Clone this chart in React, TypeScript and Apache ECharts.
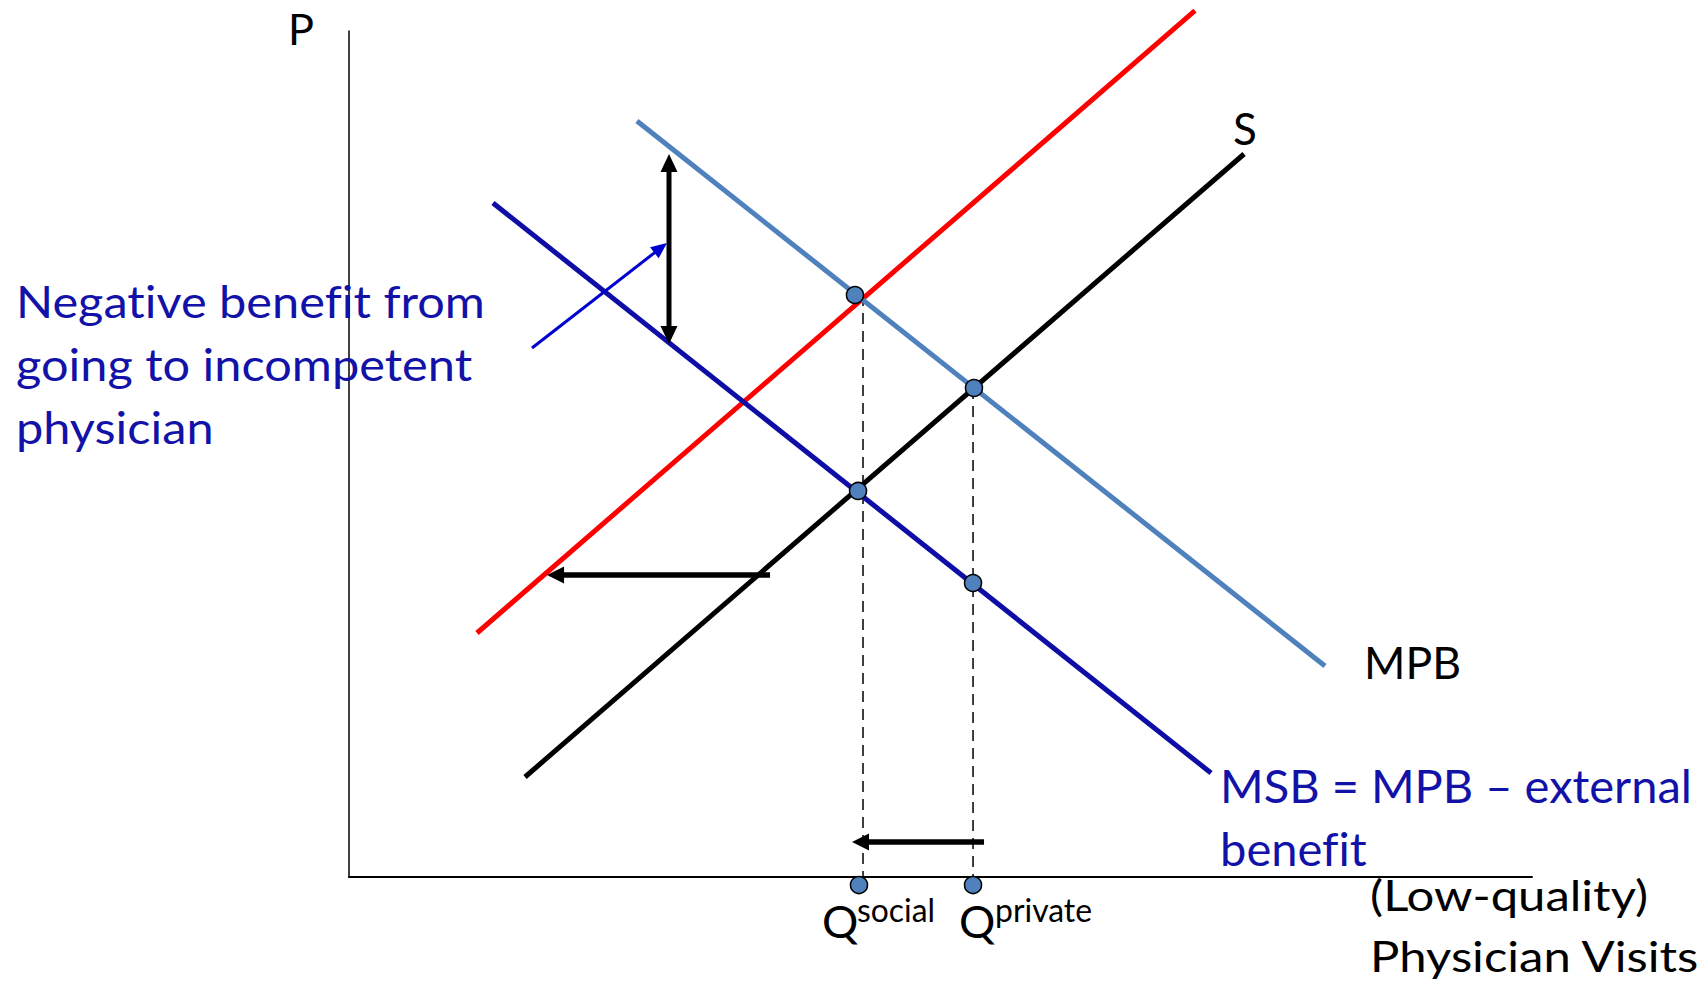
import React, { useEffect, useRef } from 'react';
import * as echarts from 'echarts';

// ---- axis ranges (chart units) ----
const xRange = [0, 100];
const yRange = [0, 100];

// ---- curves: endpoints [quantity, price] ----
const shiftedSupply = [[10.82, 28.84], [71.51, 102.4]]; // red
const supply = [[14.88, 11.82], [75.66, 85.46]]; // S
const mpb = [[24.34, 89.36], [82.5, 24.94]]; // MPB
const msb = [[12.17, 79.67], [72.87, 12.29]]; // MSB

// ---- marked points ----
const equilibriumPoints = [
  [42.77, 68.79],
  [52.83, 57.8],
  [43.03, 45.63],
  [52.75, 34.75],
];
const quantityPoints = [
  [43.11, -0.95],
  [52.75, -0.95],
];
const socialGuide = [[43.45, 68.79], [43.45, 0]];
const privateGuide = [[52.75, 57.8], [52.75, 0]];

// ---- arrows: [x1, y1, x2, y2] (tip at x2,y2) ----
const externalBenefitArrow = [[27.05, 63.0, 27.05, 85.46]];
const pointerArrow = [[15.47, 62.53, 26.88, 74.94]];
const shiftArrows = [
  [35.59, 35.7, 16.74, 35.7],
  [53.68, 4.14, 42.52, 4.14],
];

// ---- texts ----
const priceLabel = 'P';
const supplyLabel = 'S';
const mpbLabel = 'MPB';
const noteLines = ['Negative benefit from', 'going to incompetent', 'physician'];
const msbLines = ['MSB = MPB \u2013 external', 'benefit'];
const xTitleLines = ['(Low-quality)', 'Physician Visits'];
const qSocial = ['Q', 'social'];
const qPrivate = ['Q', 'private'];

const INK = '#000000';
const BLUE_TEXT = '#1212A8';
const FONT = 'Lato';
const CAP = 0.7165;
const XH = 0.5065;

const measureCtx = (() => {
  const c = document.createElement('canvas');
  return c.getContext('2d') as CanvasRenderingContext2D;
})();
function fitWidth(text: string, width: number) {
  measureCtx.font = `100px ${FONT}`;
  return (100 * width) / measureCtx.measureText(text).width;
}

function arrowRenderer(color: string, lw: number, headLen: number, headWid: number, both: boolean) {
  return (params: any, api: any) => {
    const a = api.coord([api.value(0), api.value(1)]);
    const b = api.coord([api.value(2), api.value(3)]);
    const dx = b[0] - a[0];
    const dy = b[1] - a[1];
    const len = Math.hypot(dx, dy);
    const ux = dx / len;
    const uy = dy / len;
    const px = -uy;
    const py = ux;
    const head = (tip: number[], dirx: number, diry: number) => ({
      type: 'polygon',
      shape: {
        points: [
          [tip[0], tip[1]],
          [tip[0] - dirx * headLen + (px * headWid) / 2, tip[1] - diry * headLen + (py * headWid) / 2],
          [tip[0] - dirx * headLen - (px * headWid) / 2, tip[1] - diry * headLen - (py * headWid) / 2],
        ],
      },
      style: { fill: color },
    });
    const s = both ? [a[0] + ux * headLen * 0.8, a[1] + uy * headLen * 0.8] : a;
    const e = [b[0] - ux * headLen * 0.8, b[1] - uy * headLen * 0.8];
    const children: any[] = [
      { type: 'line', shape: { x1: s[0], y1: s[1], x2: e[0], y2: e[1] }, style: { stroke: color, lineWidth: lw } },
      head(b, ux, uy),
    ];
    if (both) children.push(head(a, -ux, -uy));
    return { type: 'group', children };
  };
}

const curve = (name: string, data: number[][], color: string, width: number) => ({
  name,
  type: 'line',
  data,
  showSymbol: false,
  clip: false,
  silent: true,
  lineStyle: { color, width, cap: 'butt' },
  z: 3,
});

const baseOption: any = {
  animation: false,
  backgroundColor: '#ffffff',
  grid: { left: 349, top: 31, width: 1183, height: 846 },
  xAxis: {
    type: 'value',
    min: xRange[0],
    max: xRange[1],
    axisLine: { show: true, onZero: false, lineStyle: { color: INK, width: 2 } },
    axisTick: { show: false },
    axisLabel: { show: false },
    splitLine: { show: false },
  },
  yAxis: {
    type: 'value',
    min: yRange[0],
    max: yRange[1],
    axisLine: { show: true, onZero: false, lineStyle: { color: INK, width: 1.5 } },
    axisTick: { show: false },
    axisLabel: { show: false },
    splitLine: { show: false },
  },
  series: [
    {
      type: 'line',
      data: socialGuide,
      showSymbol: false,
      clip: false,
      lineStyle: { color: INK, width: 1.5, type: [11, 7] },
      z: 2,
    },
    {
      type: 'line',
      data: privateGuide,
      showSymbol: false,
      clip: false,
      lineStyle: { color: INK, width: 1.5, type: [11, 7] },
      z: 2,
    },
    curve('S', supply, '#000000', 5),
    curve('Shifted', shiftedSupply, '#FF0000', 5),
    curve('MPB', mpb, '#4F81BD', 5),
    curve('MSB', msb, '#0E0EA6', 5),
    {
      type: 'custom',
      data: externalBenefitArrow,
      renderItem: arrowRenderer('#000000', 5, 18, 17, true),
      clip: false,
      z: 4,
    },
    {
      type: 'custom',
      data: shiftArrows,
      renderItem: arrowRenderer('#000000', 5.5, 17, 17, false),
      clip: false,
      z: 4,
    },
    {
      type: 'custom',
      data: pointerArrow,
      renderItem: arrowRenderer('#0000D0', 3, 16, 14, false),
      clip: false,
      z: 4,
    },
    {
      type: 'scatter',
      data: [...equilibriumPoints, ...quantityPoints],
      symbol: 'circle',
      symbolSize: 17,
      clip: false,
      itemStyle: { color: '#4F81BD', borderColor: '#000000', borderWidth: 1.5, opacity: 1 },
      z: 6,
    },
  ],
};

// text layout: left x (chart units), baselines (chart units), target width of first line and glyph height
const textLayout = [
  { lines: [priceLabel], x: -5.16, base: [98.46], cap: 31, color: INK },
  { lines: [supplyLabel], x: 74.73, base: [86.64], cap: 31.5, color: INK },
  { lines: [mpbLabel], x: 85.8, base: [23.58], width: 97, cap: 31.5, color: INK },
  { lines: noteLines, x: -28.15, base: [66.19, 58.75, 51.3], width: 469, cap: 32, color: BLUE_TEXT },
  { lines: msbLines, x: 73.63, base: [8.87, 1.42], width: 472, cap: 33, color: BLUE_TEXT },
  { lines: xTitleLines, x: 86.31, base: [-3.9, -11.1], width: 278, cap: 31, color: INK },
  { lines: [qSocial[0]], x: 39.98, base: [-7.09], cap: 32.5, color: INK },
  { lines: [qSocial[1]], x: 42.94, base: [-5.32], width: 78, xh: 17, color: INK },
  { lines: [qPrivate[0]], x: 51.56, base: [-7.09], cap: 32.5, color: INK },
  { lines: [qPrivate[1]], x: 54.61, base: [-5.32], width: 97, xh: 17, color: INK },
];

export default function App() {
  const ref = useRef<HTMLDivElement>(null);
  useEffect(() => {
    const chart = echarts.init(ref.current as HTMLDivElement, null, { renderer: 'svg' });
    chart.setOption(baseOption);
    const toPx = (x: number, y: number) => chart.convertToPixel({ gridIndex: 0 }, [x, y]) as number[];
    const graphics: any[] = [];
    textLayout.forEach((t: any) => {
      let fs: number;
      let sy: number;
      if (t.width) {
        fs = fitWidth(t.lines[0], t.width);
        sy = t.xh ? t.xh / (XH * fs) : t.cap / (CAP * fs);
      } else {
        fs = t.cap / CAP;
        sy = 1;
      }
      t.lines.forEach((line: string, i: number) => {
        const p = toPx(t.x, t.base[i]);
        graphics.push({
          type: 'text',
          x: p[0],
          y: p[1] - 0.37 * fs * sy,
          scaleY: sy,
          z: 10,
          style: {
            text: line,
            fill: t.color,
            fontSize: fs,
            fontFamily: FONT,
            align: 'left',
            verticalAlign: 'middle',
          },
        });
      });
    });
    chart.setOption({ graphic: graphics });
    return () => chart.dispose();
  }, []);
  return (
    <>
      <style>{'svg text { font-variant-ligatures: none; font-feature-settings: "liga" 0; }'}</style>
      <div
        ref={ref}
        style={{ position: 'absolute', left: 0, top: 0, width: 1708, height: 981, background: '#ffffff' }}
      />
    </>
  );
}
